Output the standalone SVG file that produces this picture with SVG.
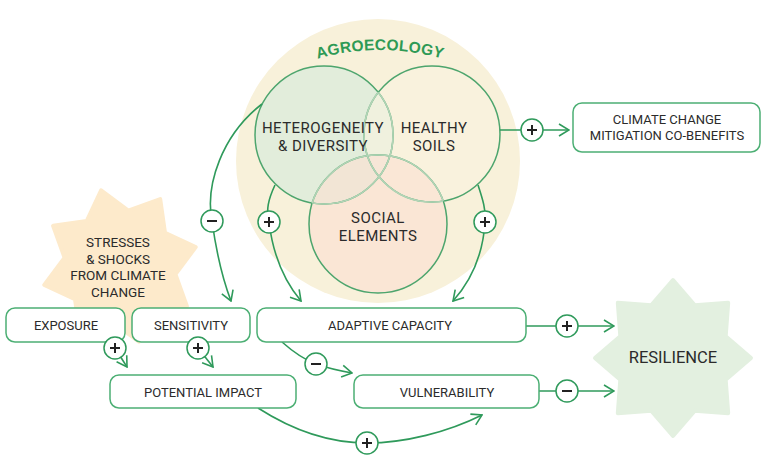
<svg xmlns="http://www.w3.org/2000/svg" width="768" height="469" viewBox="0 0 768 469">
<style>
  .lbl{font-family:Roboto,"Liberation Sans",sans-serif;fill:#2b2b2b;text-anchor:middle}
  .venn{font-size:15px;letter-spacing:0.45px}
  .box{fill:#ffffff;stroke:#4caf74;stroke-width:1.5}
  .vennS{fill:none;stroke:#4da56d;stroke-width:1.5}
  .vennL{fill:none;stroke:#b2d4b6;stroke-width:1.6}
  .con{fill:none;stroke:#2f9a5b;stroke-width:1.6;marker-end:url(#arr)}
  .sign circle{fill:#ffffff;stroke:#2f9a5b;stroke-width:1.5}
  .sign path{stroke:#222;stroke-width:2;fill:none}
</style>
<defs>
  <marker id="arr" viewBox="0 0 12 14" markerWidth="12" markerHeight="14" refX="11" refY="7" orient="auto" markerUnits="userSpaceOnUse">
    <path d="M1,1 L11,7 L1,13" fill="none" stroke="#2f9a5b" stroke-width="1.6"/>
  </marker>
  <clipPath id="cNotHet"><circle cx="432" cy="134" r="68"/><circle cx="378" cy="224" r="69"/></clipPath>
  <clipPath id="cNotSoils"><circle cx="324" cy="135" r="69"/><circle cx="378" cy="224" r="69"/></clipPath>
  <clipPath id="cNotSocial"><circle cx="324" cy="135" r="69"/><circle cx="432" cy="134" r="68"/></clipPath>
  <path id="agroArc" d="M 270 78.3 A 228 228 0 0 1 490 78.3"/>
</defs>

<g id="agroecology">
  <circle cx="378" cy="161" r="142" fill="#f8f1da"/>
  <text font-family="'Liberation Sans',Arial,sans-serif" font-size="15.5" font-weight="700" fill="#2e9a55" letter-spacing="0.2"><textPath href="#agroArc" startOffset="50%" text-anchor="middle">AGROECOLOGY</textPath></text>
</g>

<g id="stresses">
  <polygon points="195.7,247.1 175.4,274.3 186.9,306.2 153.3,311.0 138.9,341.7 111.7,321.4 79.8,332.9 75.0,299.3 44.3,284.9 64.6,257.7 53.1,225.8 86.7,221.0 101.1,190.3 128.3,210.6 160.2,199.1 165.0,232.7" fill="#fdeacb" stroke="#fdeacb" stroke-width="4" stroke-linejoin="round"/>
  <text class="lbl" font-size="13.5"><tspan x="118" y="247">STRESSES</tspan><tspan x="118" y="263.5">&amp; SHOCKS</tspan><tspan x="118" y="280">FROM CLIMATE</tspan><tspan x="118" y="296.5">CHANGE</tspan></text>
</g>

<g id="venn-fills">
  <circle cx="324" cy="135" r="69" fill="#e2eddb"/>
  <circle cx="432" cy="134" r="68" fill="#faf3e0" fill-opacity="0.6"/>
  <circle cx="378" cy="224" r="69" fill="#fbe1d3" fill-opacity="0.65"/>
</g>
<g id="venn-strokes">
  <circle class="vennS" cx="324" cy="135" r="69"/>
  <circle class="vennS" cx="432" cy="134" r="68"/>
  <circle class="vennS" cx="378" cy="224" r="69"/>
  <circle class="vennL" cx="324" cy="135" r="69" clip-path="url(#cNotHet)"/>
  <circle class="vennL" cx="432" cy="134" r="68" clip-path="url(#cNotSoils)"/>
  <circle class="vennL" cx="378" cy="224" r="69" clip-path="url(#cNotSocial)"/>
</g>

<g id="heterogeneity">
  <text class="lbl venn"><tspan x="323" y="133">HETEROGENEITY</tspan><tspan x="323" y="150.5">&amp; DIVERSITY</tspan></text>
</g>
<g id="healthy-soils">
  <text class="lbl venn"><tspan x="434" y="133">HEALTHY</tspan><tspan x="434" y="150.5">SOILS</tspan></text>
</g>
<g id="social-elements">
  <text class="lbl venn"><tspan x="378" y="223">SOCIAL</tspan><tspan x="378" y="240.5">ELEMENTS</tspan></text>
</g>

<g id="resilience">
  <polygon points="673,280 694.8,305.3 728.2,302.8 725.7,336.2 751,358 725.7,379.8 728.2,413.2 694.8,410.7 673,436 651.2,410.7 617.8,413.2 620.3,379.8 595,358 620.3,336.2 617.8,302.8 651.2,305.3" fill="#e3f0e0" stroke="#e3f0e0" stroke-width="4" stroke-linejoin="round"/>
  <text class="lbl" x="673" y="363" font-size="16.5">RESILIENCE</text>
</g>

<g id="connectors">
  <path class="con" d="M 500 130 L 569 130"/>
  <path class="con" d="M 262 104 C 222 135 205 185 212 221 C 216 250 223 280 231 301"/>
  <path class="con" d="M 275 185 C 268 200 266 210 269 222 C 273 255 285 282 301 301"/>
  <path class="con" d="M 478 185 C 483 200 486 210 485 222 C 483 255 470 282 453 301"/>
  <path class="con" d="M 115 348 L 127 367"/>
  <path class="con" d="M 198 348 L 213 367"/>
  <path class="con" d="M 282 342 Q 300 358 316 364 Q 330 369 352 373"/>
  <path class="con" d="M 526 326 L 614 326"/>
  <path class="con" d="M 539 391 L 614 391"/>
  <path class="con" d="M 258 408 C 300 435 335 443 367 443 C 405 443 448 432 482 415"/>
</g>

<g id="climate-mitigation">
  <rect class="box" x="573" y="103" width="187" height="49" rx="9"/>
  <text class="lbl" font-size="13"><tspan x="667" y="124">CLIMATE CHANGE</tspan><tspan x="667" y="140">MITIGATION CO-BENEFITS</tspan></text>
</g>
<g id="exposure">
  <rect class="box" x="6" y="308" width="119" height="34" rx="9"/>
  <text class="lbl" x="66" y="329.5" font-size="13">EXPOSURE</text>
</g>
<g id="sensitivity">
  <rect class="box" x="132" y="308" width="118" height="34" rx="9"/>
  <text class="lbl" x="191" y="329.5" font-size="13">SENSITIVITY</text>
</g>
<g id="adaptive-capacity">
  <rect class="box" x="257" y="308" width="269" height="34" rx="9"/>
  <text class="lbl" x="390" y="329.5" font-size="13">ADAPTIVE CAPACITY</text>
</g>
<g id="potential-impact">
  <rect class="box" x="110" y="375" width="186" height="33" rx="9"/>
  <text class="lbl" x="203" y="396.5" font-size="13">POTENTIAL IMPACT</text>
</g>
<g id="vulnerability">
  <rect class="box" x="354" y="375" width="185" height="33" rx="9"/>
  <text class="lbl" x="447" y="397" font-size="13">VULNERABILITY</text>
</g>

<g id="signs">
  <g class="sign"><circle cx="532" cy="130" r="11"/><path d="M527,130 H537 M532,125 V135"/></g>
  <g class="sign"><circle cx="212" cy="221" r="11"/><path d="M207,221 H217"/></g>
  <g class="sign"><circle cx="269" cy="222" r="11"/><path d="M264,222 H274 M269,217 V227"/></g>
  <g class="sign"><circle cx="485" cy="222" r="11"/><path d="M480,222 H490 M485,217 V227"/></g>
  <g class="sign"><circle cx="115" cy="348" r="11"/><path d="M110,348 H120 M115,343 V353"/></g>
  <g class="sign"><circle cx="198" cy="348" r="11"/><path d="M193,348 H203 M198,343 V353"/></g>
  <g class="sign"><circle cx="316" cy="364" r="11"/><path d="M311,364 H321"/></g>
  <g class="sign"><circle cx="567" cy="326" r="11"/><path d="M562,326 H572 M567,321 V331"/></g>
  <g class="sign"><circle cx="567" cy="391" r="11"/><path d="M562,391 H572"/></g>
  <g class="sign"><circle cx="367" cy="443" r="11"/><path d="M362,443 H372 M367,438 V448"/></g>
</g>
</svg>
